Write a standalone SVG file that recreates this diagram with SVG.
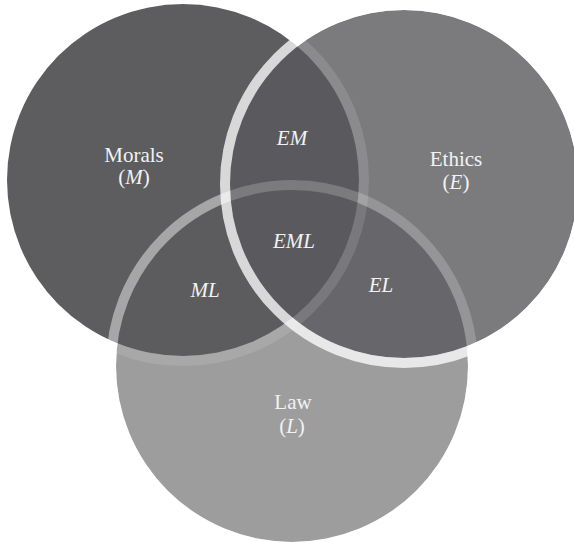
<svg xmlns="http://www.w3.org/2000/svg" width="574" height="542" viewBox="0 0 574 542">
  <style>
    .lbl { font-family: "Liberation Serif", "Times New Roman", serif; font-size: 21px; fill: #f2f2f2; text-anchor: middle; }
    .it { font-style: italic; }
    .ring { fill: none; stroke: #ffffff; stroke-width: 10; }
  </style>
  <defs>
    <clipPath id="insideE">
      <circle cx="404" cy="184" r="174"/>
    </clipPath>
    <mask id="outsideE" maskUnits="userSpaceOnUse" x="0" y="0" width="574" height="542">
      <rect x="0" y="0" width="574" height="542" fill="#fff"/>
      <circle cx="404" cy="184" r="174" fill="#000"/>
    </mask>
  </defs>
  <rect x="0" y="0" width="574" height="542" fill="#ffffff"/>

  <g id="morals">
    <circle cx="183" cy="180" r="176" fill="#5d5d60"/>
  </g>
  <g id="law">
    <circle cx="292" cy="366" r="176" fill="#5b5b5e" fill-opacity="0.6"/>
  </g>
  <g id="ethics">
    <circle cx="404" cy="184" r="174" fill="#5a5a5e" fill-opacity="0.8"/>
  </g>

  <g id="rings">
    <circle class="ring" cx="183" cy="180" r="181" stroke-opacity="0.12"/>
    <circle class="ring" cx="292" cy="366" r="181" stroke-opacity="0.45" mask="url(#outsideE)"/>
    <circle class="ring" cx="292" cy="366" r="181" stroke-opacity="0.2" clip-path="url(#insideE)"/>
    <circle class="ring" cx="404" cy="184" r="179" stroke-opacity="0.76"/>
  </g>

  <g id="labels">
    <text class="lbl" x="134" y="162">Morals</text>
    <text class="lbl" x="134" y="184">(<tspan class="it">M</tspan>)</text>
    <text class="lbl" x="456" y="166">Ethics</text>
    <text class="lbl" x="456" y="189">(<tspan class="it">E</tspan>)</text>
    <text class="lbl" x="293" y="409">Law</text>
    <text class="lbl" x="292" y="433">(<tspan class="it">L</tspan>)</text>
    <text class="lbl it" x="292" y="145">EM</text>
    <text class="lbl it" x="294" y="248">EML</text>
    <text class="lbl it" x="205" y="297">ML</text>
    <text class="lbl it" x="381" y="292">EL</text>
  </g>
</svg>
